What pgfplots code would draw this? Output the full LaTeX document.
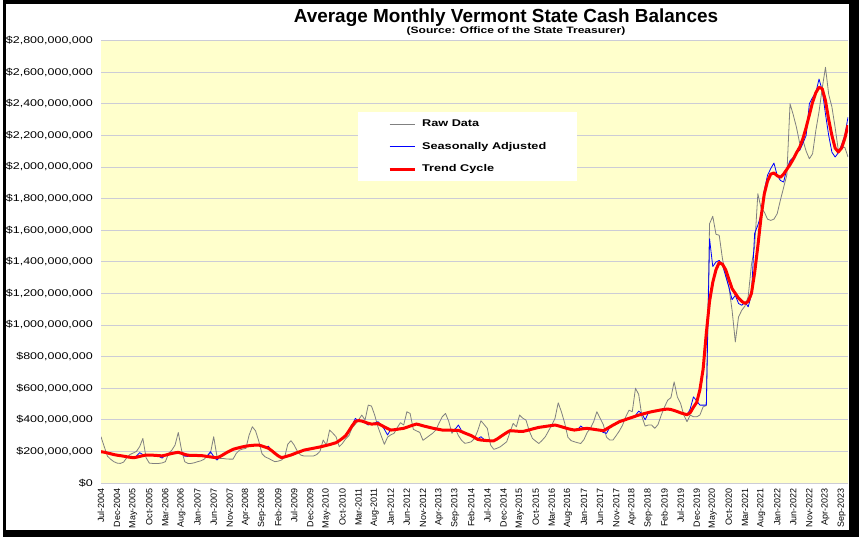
\documentclass[border=0pt]{standalone}
\usepackage{pgfplots}
\pgfplotsset{compat=1.18}
\usepackage{pgfplotstable}
\usepackage{fontspec}
\setmainfont{Liberation Sans}
\newfontfamily\widesans[FakeStretch=1.28]{Liberation Sans}
\newfontfamily\widersans[FakeStretch=1.3]{Liberation Sans}
\definecolor{bgyellow}{RGB}{255,255,204}
\definecolor{gridc}{RGB}{204,204,214}
\definecolor{rawgray}{RGB}{128,128,128}
\definecolor{trendred}{RGB}{255,0,0}
\definecolor{sablue}{RGB}{0,0,255}

\pgfplotstableread{
i raw sa trend
0 293 200 198
1 230 196 195
2 170 188 190
3 150 186 185
4 135 178 180
5 126 176 176
6 124 170 173
7 132 172 170
8 160 168 166
9 180 160 163
10 190 158 160
11 200 170 163
12 230 192 168
13 282 180 173
14 160 175 177
15 126 178 177
16 124 176 176
17 124 174 175
18 124 168 173
19 127 158 172
20 135 176 176
21 187 186 182
22 208 184 187
23 240 192 191
24 320 200 194
25 210 186 188
26 135 170 181
27 124 168 176
28 124 178 175
29 128 176 175
30 135 174 174
31 140 172 174
32 150 170 171
33 170 172 168
34 190 198 165
35 293 168 162
36 170 145 160
37 156 165 168
38 155 182 180
39 152 190 192
40 151 205 203
41 151 212 213
42 187 222 219
43 208 222 224
44 215 226 229
45 219 232 233
46 303 236 236
47 356 240 238
48 330 238 240
49 265 244 240
50 185 236 234
51 165 225 227
52 156 233 220
53 145 203 205
54 135 186 188
55 138 170 172
56 145 160 161
57 160 168 165
58 245 170 171
59 268 180 177
60 240 182 185
61 200 196 193
62 177 198 200
63 171 210 208
64 171 212 212
65 171 214 216
66 171 222 220
67 180 222 224
68 200 228 228
69 272 236 233
70 240 236 238
71 335 246 243
72 315 248 249
73 293 258 255
74 230 265 268
75 251 285 283
76 280 298 300
77 300 335 330
78 350 365 362
79 372 409 390
80 400 392 395
81 430 390 392
82 398 380 385
83 493 367 378
84 487 375 373
85 430 380 374
86 356 388 376
87 300 370 366
88 245 340 355
89 290 304 345
90 305 340 335
91 314 335 337
92 350 342 340
93 382 340 343
94 367 352 346
95 451 350 353
96 440 362 360
97 340 365 367
98 330 378 373
99 320 365 368
100 270 360 362
101 285 352 357
102 300 355 352
103 315 345 347
104 335 345 343
105 380 336 339
106 420 338 335
107 440 332 335
108 390 336 334
109 314 330 334
110 346 340 333
111 300 367 333
112 270 330 325
113 251 318 316
114 255 305 308
115 261 302 300
116 282 285 288
117 330 280 276
118 394 293 272
119 370 275 270
120 345 270 268
121 240 265 267
122 213 262 267
123 220 280 278
124 229 290 292
125 245 308 306
126 261 318 319
127 320 333 331
128 377 328 330
129 356 330 328
130 430 326 327
131 410 324 326
132 398 335 331
133 330 334 336
134 282 345 342
135 265 345 347
136 250 353 352
137 270 354 355
138 293 360 358
139 330 360 361
140 367 365 364
141 409 370 367
142 508 360 362
143 450 358 356
144 380 348 350
145 290 345 344
146 268 336 339
147 261 337 335
148 255 336 338
149 250 361 341
150 275 345 344
151 320 348 346
152 346 340 343
153 388 342 340
154 451 336 337
155 410 332 334
156 370 320 331
157 290 314 342
158 272 352 354
159 272 368 366
160 300 375 377
161 330 390 388
162 367 393 395
163 420 404 402
164 461 407 409
165 451 418 416
166 600 428 423
167 560 455 430
168 420 438 435
169 360 400 441
170 367 445 446
171 367 452 451
172 346 455 455
173 370 460 459
174 430 462 463
175 480 468 466
176 524 466 468
177 540 468 465
178 640 457 459
179 545 454 452
180 504 442 444
181 430 436 438
182 388 430 432
183 430 470 445
184 419 545 480
185 419 520 510
186 430 493 590
187 482 493 720
188 490 493 950
189 1641 1546 1150
190 1688 1370 1270
191 1574 1399 1350
192 1568 1409 1395
193 1420 1380 1385
194 1320 1310 1350
195 1241 1240 1290
196 1093 1160 1230
197 893 1188 1200
198 1051 1136 1170
199 1093 1125 1150
200 1120 1146 1136
201 1180 1115 1150
202 1380 1190 1199
203 1494 1580 1330
204 1831 1632 1500
205 1740 1700 1683
206 1715 1852 1830
207 1670 1947 1910
208 1662 1990 1955
209 1670 2025 1962
210 1704 1947 1945
211 1790 1915 1935
212 1870 1905 1955
213 1950 1989 1985
214 2400 2040 2015
215 2330 2060 2050
216 2250 2095 2090
217 2150 2105 2125
218 2170 2150 2180
219 2100 2200 2250
220 2052 2400 2330
221 2084 2440 2410
222 2230 2470 2470
223 2350 2557 2505
224 2500 2484 2495
225 2631 2336 2420
226 2460 2200 2300
227 2380 2094 2200
228 2250 2063 2120
229 2105 2090 2095
230 2120 2140 2120
231 2125 2200 2180
232 2063 2315 2265
}\datatable

\begin{document}
\begin{tikzpicture}
\useasboundingbox (0,0) rectangle (861bp,545bp);
\fill[white] (0,0) rectangle (861bp,545bp);
\fill[black] (3bp,8bp) rectangle (859bp,545bp);
\fill[white] (6bp,15bp) rectangle (849bp,541bp);
\node[font=\fontsize{19}{21}\selectfont\bfseries] at (506bp,527bp) {Average Monthly Vermont State Cash Balances};
\node[font=\widersans\fontsize{9.3}{10}\selectfont\bfseries] at (516bp,514bp) {(Source: Office of the State Treasurer)};
\begin{axis}[
  at={(101bp,62bp)}, anchor=south west,
  scale only axis, width=747bp, height=442.4bp,
  xmin=0, xmax=232, ymin=0, ymax=2800,
  axis background/.style={fill=bgyellow},
  axis line style={draw=none},
  tick style={draw=none},
  major tick length=0pt,
  ymajorgrids,
  major grid style={gridc, line width=0.9bp},
  ytick={0,200,...,2800},
  yticklabels={{\$0},{\$200,000,000},{\$400,000,000},{\$600,000,000},{\$800,000,000},{\$1,000,000,000},{\$1,200,000,000},{\$1,400,000,000},{\$1,600,000,000},{\$1,800,000,000},{\$2,000,000,000},{\$2,200,000,000},{\$2,400,000,000},{\$2,600,000,000},{\$2,800,000,000}},
  yticklabel style={font=\widesans\fontsize{9.8}{11}\selectfont, anchor=east, inner xsep=8bp, inner ysep=0pt},
  xtick={0,5,...,230},
  xticklabels={Jul-2004,Dec-2004,May-2005,Oct-2005,Mar-2006,Aug-2006,Jan-2007,Jun-2007,Nov-2007,Apr-2008,Sep-2008,Feb-2009,Jul-2009,Dec-2009,May-2010,Oct-2010,Mar-2011,Aug-2011,Jan-2012,Jun-2012,Nov-2012,Apr-2013,Sep-2013,Feb-2014,Jul-2014,Dec-2014,May-2015,Oct-2015,Mar-2016,Aug-2016,Jan-2017,Jun-2017,Nov-2017,Apr-2018,Sep-2018,Feb-2019,Jul-2019,Dec-2019,May-2020,Oct-2020,Mar-2021,Aug-2021,Jan-2022,Jun-2022,Nov-2022,Apr-2023,Sep-2023},
  xticklabel style={font=\fontsize{9}{10}\selectfont, rotate=90, anchor=east, inner xsep=5bp, inner ysep=0pt},
  legend cell align=left,
  legend style={at={(0.344,0.8386)}, anchor=north west, draw=none, fill=white,
    inner xsep=30bp, inner ysep=6.5bp, row sep=12bp, column sep=5bp,
    font=\widersans\fontsize{9.8}{11}\selectfont\bfseries,
    nodes={inner sep=1bp}},
  legend image code/.code={\draw[#1] (0bp,0bp) -- (25bp,0bp);},
]
\addplot[rawgray, line width=0.8bp, line join=round] table[x=i, y=raw] {\datatable};
\addlegendentry{\vphantom{Ajy}Raw Data}
\addplot[sablue, line width=0.8bp, line join=round] table[x=i, y=sa] {\datatable};
\addlegendentry{\vphantom{Ajy}Seasonally Adjusted}
\addplot[trendred, line width=3bp, line join=round] table[x=i, y=trend] {\datatable};
\addlegendentry{\vphantom{Ajy}Trend Cycle}
\end{axis}
\end{tikzpicture}
\end{document}
